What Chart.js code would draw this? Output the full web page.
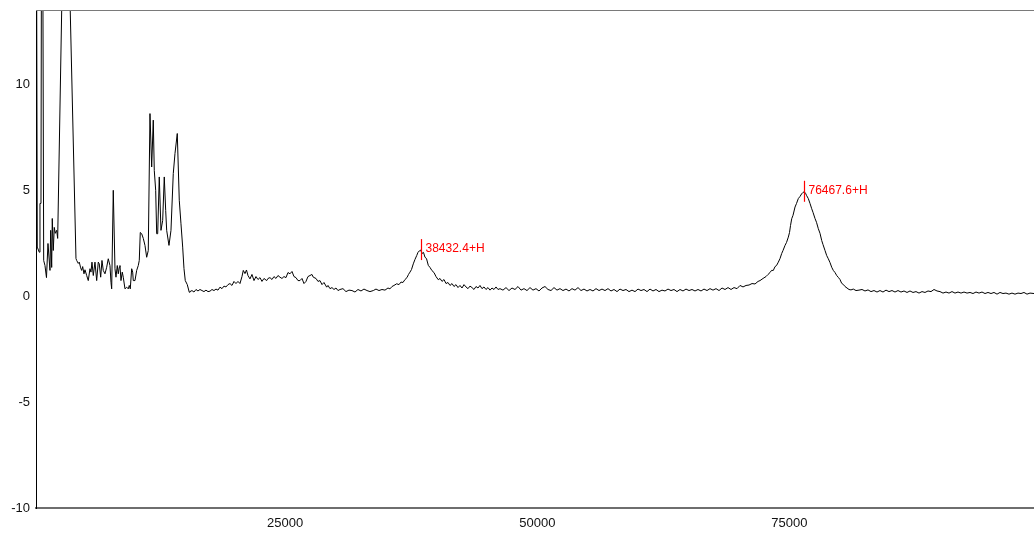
<!DOCTYPE html>
<html lang="en">
  <head>
    <meta charset="utf-8" />
    <title>Deconvoluted spectrum</title>
    <style>
      * {
        margin: 0;
        padding: 0;
      }
      body {
        background: #fff;
      }
      .chartBox {
        width: 1034px;
        height: 535px;
      }
    </style>
  </head>
  <body>
    <div class="chartBox">
      <canvas id="myChart"></canvas>
    </div>

    <script src="https://cdn.jsdelivr.net/npm/chart.js"></script>

    <script>
      // spectrum: mass (Da) and intensity, same order
      const masses = [
        307, 416, 615, 684, 783, 883, 1051, 1180, 1329, 1478,
        1676, 1745, 1844, 1904, 2003, 2102, 2201, 2340, 2439, 3203,
        4254, 4323, 4482, 4581, 4720, 4819, 4918, 5047, 5146, 5315,
        5474, 5642, 5741, 5841, 5970, 6138, 6307, 6465, 6564, 6703,
        6832, 6961, 7130, 7298, 7457, 7626, 7725, 7794, 7953, 8121,
        8220, 8349, 8448, 8548, 8617, 8716, 8845, 8944, 9113, 9281,
        9440, 9539, 9638, 9777, 9876, 9936, 10104, 10273, 10432, 10531,
        10630, 10769, 10928, 11096, 11265, 11423, 11592, 11760, 11919, 12018,
        12157, 12256, 12355, 12514, 12683, 12851, 13010, 13149, 13248, 13476,
        13674, 13902, 14071, 14299, 14497, 14666, 14834, 14963, 15092, 15290,
        15488, 15558, 15757, 15955, 16153, 16352, 16550, 16748, 16947, 17145,
        17343, 17542, 17740, 17938, 18137, 18335, 18533, 18732, 18930, 19128,
        19326, 19525, 19723, 19921, 20120, 20318, 20516, 20715, 20844, 21012,
        21161, 21310, 21508, 21706, 21905, 22103, 22301, 22500, 22698, 22896,
        23164, 23293, 23491, 23690, 23888, 24086, 24284, 24483, 24681, 24879,
        25078, 25276, 25474, 25673, 25871, 26069, 26268, 26466, 26664, 26863,
        27061, 27259, 27458, 27656, 27785, 28053, 28251, 28449, 28648, 28846,
        29114, 29243, 29441, 29639, 29838, 30036, 30234, 30432, 30730, 31027,
        31325, 31622, 31920, 32217, 32515, 32812, 33110, 33407, 33735, 34002,
        34300, 34597, 34895, 35192, 35390, 35589, 35787, 36055, 36283, 36481,
        36680, 36878, 37076, 37225, 37374, 37523, 37702, 37870, 38039, 38168,
        38297, 38432.4, 38564, 38713, 38862, 39011, 39189, 39357, 39555, 39754,
        39952, 40180, 40350, 40548, 40746, 40945, 41143, 41341, 41540, 41738,
        41936, 42134, 42333, 42531, 42729, 42928, 43126, 43324, 43523, 43721,
        43919, 44118, 44316, 44514, 44713, 44911, 45109, 45308, 45506, 45704,
        45903, 46101, 46298, 46596, 46894, 47191, 47489, 47786, 48084, 48381,
        48679, 48976, 49274, 49571, 49869, 50166, 50464, 50761, 51059, 51356,
        51654, 51951, 52249, 52546, 52844, 53141, 53439, 53737, 54034, 54332,
        54629, 54927, 55224, 55522, 55819, 56117, 56414, 56712, 57009, 57307,
        57604, 57902, 58199, 58497, 58794, 59092, 59389, 59687, 59984, 60282,
        60579, 60877, 61174, 61472, 61769, 62067, 62364, 62662, 62959, 63257,
        63554, 63852, 64149, 64447, 64744, 65042, 65339, 65637, 65934, 66232,
        66529, 66827, 67124, 67422, 67720, 68017, 68315, 68612, 68910, 69207,
        69505, 69802, 70100, 70397, 70695, 70992, 71290, 71587, 71885, 72083,
        72381, 72678, 72876, 73075, 73223, 73402, 73570, 73719, 73897, 74066,
        74234, 74363, 74562, 74710, 74889, 75008, 75107, 75226, 75355, 75553,
        75702, 75880, 76049, 76218, 76297, 76467.6, 76594, 76693, 76871, 77040,
        77208, 77337, 77535, 77684, 77862, 78031, 78200, 78329, 78527, 78695,
        78854, 79023, 79191, 79350, 79518, 79687, 79865, 80014, 80182, 80361,
        80509, 80708, 80906, 81104, 81332, 81600, 81897, 82195, 82492, 82790,
        83087, 83385, 83682, 83980, 84277, 84575, 84872, 85170, 85467, 85765,
        86062, 86360, 86657, 86955, 87252, 87550, 87847, 88145, 88442, 88740,
        89037, 89335, 89632, 89930, 90227, 90525, 90823, 91120, 91418, 91715,
        92013, 92310, 92608, 92905, 93203, 93500, 93798, 94095, 94393, 94690,
        94988, 95285, 95583, 95878, 96176, 96473, 96771, 97068, 97366, 97663,
        97961, 98258, 98556, 98853, 99250,
      ];
      const intensities = [
        25, 2.31, 2.07, 4.37, 4.37, 30, 1.68, 1.44, 0.87, 2.48,
        1.21, 3.1, 1.35, 3.66, 2.15, 3.24, 2.96, 3.1, 2.72, 23.4,
        1.77, 1.68, 1.54, 1.6, 1.33, 1.21, 1.39, 1.05, 1.24, 0.97,
        0.73, 1.29, 1.13, 1.6, 0.97, 1.6, 0.73, 1.6, 1.52, 0.89,
        1.68, 1.21, 1.05, 1.36, 1.76, 1.44, 0.65, 0.34, 4.99, 1.29,
        0.89, 1.44, 1.05, 1.36, 1.44, 0.73, 1.13, 0.89, 0.34, 0.42,
        0.34, 0.5, 0.34, 1.29, 1.13, 0.73, 0.73, 1.21, 1.44, 1.68,
        3.0, 2.94, 2.72, 2.39, 1.83, 2.15, 8.61, 6.09, 8.3, 5.93,
        4.99, 2.94, 2.94, 5.62, 3.1, 3.57, 5.62, 4.04, 3.1, 2.39,
        3.1, 5.78, 6.72, 7.67, 4.52, 3.41, 2.31, 1.3, 0.73, 0.54,
        0.18, 0.21, 0.26, 0.19, 0.31, 0.24, 0.31, 0.26, 0.21, 0.28,
        0.21, 0.23, 0.31, 0.26, 0.33, 0.28, 0.42, 0.35, 0.47, 0.43,
        0.54, 0.59, 0.5, 0.69, 0.59, 0.69, 0.59, 0.92, 1.21, 1.06,
        1.23, 0.97, 0.81, 1.02, 0.73, 0.92, 0.78, 0.87, 0.69, 0.83,
        0.73, 0.83, 0.87, 0.78, 0.92, 0.83, 0.97, 0.89, 0.83, 0.92,
        0.87, 1.11, 1.05, 1.16, 0.92, 0.87, 0.73, 0.73, 0.83, 0.59,
        0.69, 0.92, 0.97, 1.02, 0.89, 0.83, 0.69, 0.73, 0.54, 0.64,
        0.42, 0.5, 0.35, 0.4, 0.31, 0.38, 0.26, 0.31, 0.35, 0.21,
        0.28, 0.26, 0.19, 0.31, 0.24, 0.33, 0.26, 0.21, 0.26, 0.33,
        0.26, 0.31, 0.28, 0.38, 0.34, 0.45, 0.5, 0.58, 0.54, 0.66,
        0.64, 0.78, 0.87, 1.02, 1.13, 1.25, 1.52, 1.73, 1.91, 2.06,
        2.13, 2.17, 2.01, 2.06, 1.83, 1.77, 1.45, 1.35, 1.2, 1.11,
        0.92, 0.77, 0.83, 0.69, 0.78, 0.59, 0.64, 0.5, 0.59, 0.45,
        0.54, 0.4, 0.5, 0.38, 0.54, 0.43, 0.35, 0.47, 0.4, 0.31,
        0.45, 0.38, 0.5, 0.35, 0.43, 0.31, 0.4, 0.28, 0.38, 0.31,
        0.43, 0.31, 0.35, 0.28, 0.4, 0.26, 0.38, 0.31, 0.45, 0.28,
        0.35, 0.26, 0.4, 0.28, 0.35, 0.24, 0.38, 0.45, 0.31, 0.26,
        0.4, 0.28, 0.35, 0.26, 0.33, 0.24, 0.35, 0.28, 0.4, 0.26,
        0.33, 0.24, 0.31, 0.24, 0.35, 0.26, 0.33, 0.26, 0.35, 0.24,
        0.31, 0.21, 0.33, 0.26, 0.31, 0.21, 0.28, 0.21, 0.33, 0.26,
        0.31, 0.21, 0.33, 0.24, 0.31, 0.21, 0.28, 0.24, 0.33, 0.26,
        0.31, 0.21, 0.31, 0.24, 0.33, 0.26, 0.31, 0.24, 0.31, 0.24,
        0.33, 0.26, 0.35, 0.28, 0.35, 0.26, 0.38, 0.31, 0.4, 0.31,
        0.4, 0.35, 0.5, 0.43, 0.5, 0.52, 0.59, 0.57, 0.69, 0.73,
        0.83, 0.92, 1.02, 1.11, 1.21, 1.21, 1.39, 1.44, 1.6, 1.77,
        2.01, 2.15, 2.39, 2.53, 2.78, 3.0, 3.33, 3.65, 3.81, 4.2,
        4.37, 4.6, 4.7, 4.83, 4.87, 4.92, 4.85, 4.75, 4.6, 4.37,
        4.12, 3.95, 3.66, 3.48, 3.18, 2.96, 2.62, 2.43, 2.15, 1.91,
        1.76, 1.58, 1.36, 1.21, 1.11, 0.97, 0.87, 0.78, 0.6, 0.54,
        0.45, 0.38, 0.31, 0.29, 0.33, 0.26, 0.28, 0.31, 0.24, 0.29,
        0.21, 0.26, 0.19, 0.26, 0.19, 0.28, 0.21, 0.26, 0.19, 0.26,
        0.19, 0.24, 0.17, 0.24, 0.17, 0.21, 0.14, 0.21, 0.17, 0.24,
        0.21, 0.31, 0.24, 0.21, 0.14, 0.19, 0.14, 0.21, 0.14, 0.19,
        0.14, 0.19, 0.14, 0.17, 0.12, 0.19, 0.14, 0.19, 0.12, 0.17,
        0.12, 0.17, 0.09, 0.17, 0.12, 0.14, 0.09, 0.14, 0.09, 0.14,
        0.12, 0.17, 0.09, 0.14, 0.12,
      ];

      // labelled peaks
      const peakMasses = [38432.4, 76467.6];
      const peakIntensities = [2.17, 4.92];
      const peakLabels = ["38432.4+H", "76467.6+H"];

      // axis ticks
      const xTickValues = [25000, 50000, 75000];
      const yTickValues = [-10, -5, 0, 5, 10];

      const fontFamily = "'Liberation Sans', Arial, sans-serif";

      const points = masses.map((m, i) => ({ x: m, y: intensities[i] }));

      // red tick + mass label over each picked peak
      const peakMarkers = {
        id: "peakMarkers",
        afterDatasetsDraw(chart) {
          const {
            ctx,
            scales: { x, y },
          } = chart;
          ctx.save();
          ctx.strokeStyle = "#ff0000";
          ctx.fillStyle = "#ff0000";
          ctx.lineWidth = 1.2;
          ctx.font = "12px " + fontFamily;
          ctx.textBaseline = "middle";
          peakMasses.forEach((m, i) => {
            const px = Math.round(x.getPixelForValue(m)) + 0.5;
            const py = y.getPixelForValue(peakIntensities[i]);
            ctx.beginPath();
            ctx.moveTo(px, py - 11);
            ctx.lineTo(px, py + 10);
            ctx.stroke();
            ctx.fillText(peakLabels[i], px + 4, py - 1);
          });
          ctx.restore();
        },
      };

      // thin line closing the plot at the top
      const topFrame = {
        id: "topFrame",
        afterDraw(chart) {
          const { ctx, chartArea } = chart;
          ctx.save();
          ctx.strokeStyle = "#7a7a7a";
          ctx.lineWidth = 1;
          ctx.beginPath();
          ctx.moveTo(chartArea.left, Math.round(chartArea.top) - 0.5);
          ctx.lineTo(chartArea.right, Math.round(chartArea.top) - 0.5);
          ctx.stroke();
          ctx.restore();
        },
      };

      const config = {
        type: "line",
        data: {
          datasets: [
            {
              data: points,
              borderColor: "#000",
              borderWidth: 1,
              pointRadius: 0,
              tension: 0,
              fill: false,
            },
          ],
        },
        options: {
          responsive: true,
          maintainAspectRatio: false,
          animation: false,
          events: [],
          layout: {
            padding: { top: 11, right: 0, bottom: 0, left: 0 },
          },
          plugins: {
            legend: { display: false },
            tooltip: { enabled: false },
          },
          scales: {
            x: {
              type: "linear",
              min: 290,
              max: 99250,
              grid: { display: false, drawTicks: false },
              border: { display: true, color: "#6e6e6e", width: 2 },
              ticks: {
                color: "#111",
                font: { size: 13, family: fontFamily },
                padding: 8,
                maxRotation: 0,
                autoSkip: false,
                callback: (v) => String(v),
              },
              afterBuildTicks(scale) {
                scale.ticks = xTickValues.map((v) => ({ value: v }));
              },
              afterFit(scale) {
                scale.height = 27;
                scale.paddingLeft = 0;
                scale.paddingRight = 0;
              },
            },
            y: {
              min: -10,
              max: 13.45,
              grid: { display: false, drawTicks: false },
              border: { display: true, color: "#000", width: 1 },
              ticks: {
                color: "#111",
                font: { size: 13, family: fontFamily },
                padding: 6,
                callback: (v) => String(v),
              },
              afterBuildTicks(scale) {
                scale.ticks = yTickValues.map((v) => ({ value: v }));
              },
              afterFit(scale) {
                scale.width = 36;
                scale.paddingTop = 0;
                scale.paddingBottom = 0;
              },
            },
          },
        },
        plugins: [peakMarkers, topFrame],
      };

      const ctx = document.getElementById("myChart");
      const myChart = new Chart(ctx, config);
    </script>
  </body>
</html>
